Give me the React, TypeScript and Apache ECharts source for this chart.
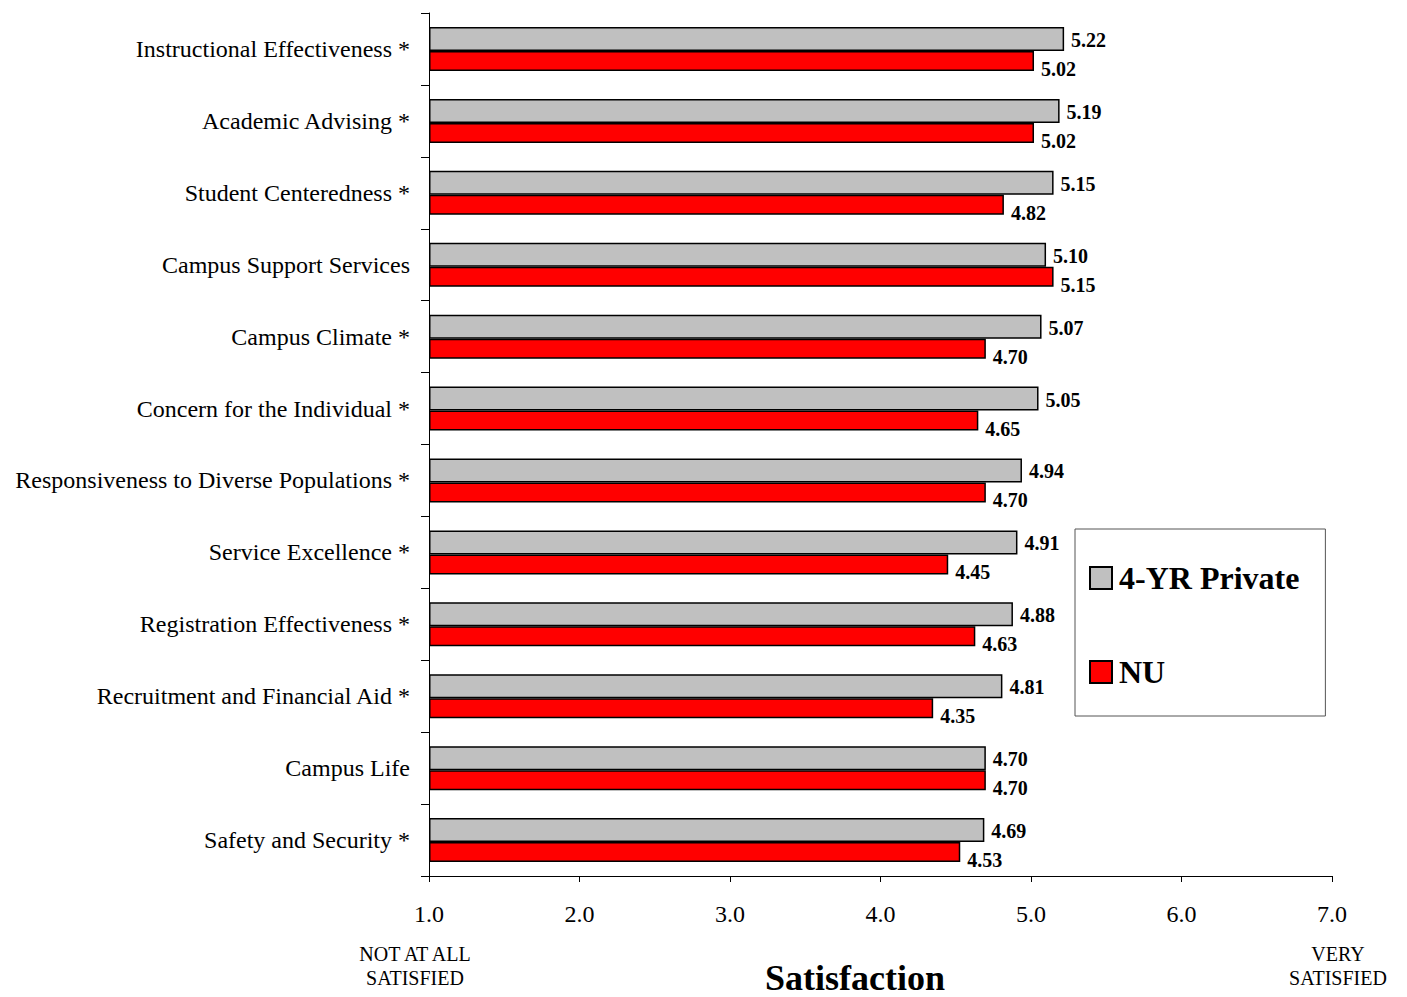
import React, { useEffect, useRef } from "react";
import * as echarts from "echarts";

const categories = [
  "Instructional Effectiveness *",
  "Academic Advising *",
  "Student Centeredness *",
  "Campus Support Services",
  "Campus Climate *",
  "Concern for the Individual *",
  "Responsiveness to Diverse Populations *",
  "Service Excellence *",
  "Registration Effectiveness *",
  "Recruitment and Financial Aid *",
  "Campus Life",
  "Safety and Security *",
];
const privateValues = [5.22, 5.19, 5.15, 5.1, 5.07, 5.05, 4.94, 4.91, 4.88, 4.81, 4.7, 4.69];
const nuValues = [5.02, 5.02, 4.82, 5.15, 4.7, 4.65, 4.7, 4.45, 4.63, 4.35, 4.7, 4.53];
const seriesNames = ["4-YR Private", "NU"];
const xTicks = [1, 2, 3, 4, 5, 6, 7];

const FONT = '"Liberation Serif", "Times New Roman", serif';

export default function App() {
  const ref = useRef<HTMLDivElement>(null);
  useEffect(() => {
    if (!ref.current) return;
    const chart = echarts.init(ref.current, null, { renderer: "svg" });
    chart.setOption({
      animation: false,
      textStyle: { fontFamily: FONT },
      grid: { left: 429, right: 75, top: 13, bottom: 121, containLabel: false },
      legend: {
        orient: "vertical",
        left: 1075,
        top: 529,
        padding: [33, 26, 28, 14],
        itemGap: 62,
        itemWidth: 22,
        itemHeight: 22,
        backgroundColor: "#fff",
        borderColor: "#555",
        borderWidth: 1,
        borderRadius: 0,
        textStyle: { fontFamily: FONT, fontSize: 32, fontWeight: "bold", color: "#000", lineHeight: 32, padding: [0, 0, 0, 2] },
        data: seriesNames.map((n) => ({ name: n, icon: "rect" })),
      },
      xAxis: {
        type: "value",
        min: xTicks[0],
        max: xTicks[xTicks.length - 1],
        interval: 1,
        startValue: 1,
        splitLine: { show: false },
        axisLine: { show: true, lineStyle: { color: "#000", width: 1 } },
        axisTick: { show: true, inside: false, length: 6, lineStyle: { color: "#000" } },
        axisLabel: {
          fontFamily: FONT,
          fontSize: 24,
          color: "#000",
          margin: 26,
          formatter: (v: number) => v.toFixed(1),
        },
      },
      yAxis: {
        type: "category",
        inverse: true,
        data: categories,
        axisLine: { show: true, lineStyle: { color: "#000", width: 1 } },
        axisTick: { show: true, length: 8, alignWithLabel: false, lineStyle: { color: "#000" } },
        axisLabel: { fontFamily: FONT, fontSize: 24, color: "#000", margin: 19 },
      },
      series: [
        {
          name: seriesNames[0],
          type: "bar",
          data: privateValues,
          barWidth: 24,
          barGap: "0%",
          itemStyle: { color: "#C0C0C0", borderColor: "#000", borderWidth: 1.5 },
          label: {
            show: true,
            position: "right",
            distance: 7,
            offset: [0, 1],
            fontFamily: FONT,
            fontSize: 20,
            fontWeight: "bold",
            color: "#000",
            formatter: (p: any) => Number(p.value).toFixed(2),
          },
        },
        {
          name: seriesNames[1],
          type: "bar",
          data: nuValues,
          barWidth: 20,
          barGap: "0%",
          itemStyle: { color: "#FF0000", borderColor: "#000", borderWidth: 1.5 },
          label: {
            show: true,
            position: "right",
            distance: 7,
            offset: [0, 8],
            fontFamily: FONT,
            fontSize: 20,
            fontWeight: "bold",
            color: "#000",
            formatter: (p: any) => Number(p.value).toFixed(2),
          },
        },
      ],
      graphic: [
        { type: "line", shape: { x1: 421, y1: 876.5, x2: 429, y2: 876.5 }, style: { stroke: "#000", lineWidth: 1 } },
        {
          type: "text",
          x: 415,
          y: 942,
          style: { text: "NOT AT ALL\nSATISFIED", font: `20px ${FONT}`, fill: "#000", align: "center", lineHeight: 24 },
        },
        {
          type: "text",
          x: 1338,
          y: 942,
          style: { text: "VERY\nSATISFIED", font: `20px ${FONT}`, fill: "#000", align: "center", lineHeight: 24 },
        },
        {
          type: "text",
          x: 855,
          y: 978,
          style: {
            text: "Satisfaction",
            font: `bold 36px ${FONT}`,
            lineHeight: 36,
            fill: "#000",
            align: "center",
            verticalAlign: "middle",
          },
        },
      ],
    });
    return () => chart.dispose();
  }, []);
  return (
    <div
      ref={ref}
      style={{ position: "fixed", left: 0, top: 0, width: 1407, height: 997, background: "#fff" }}
    />
  );
}
